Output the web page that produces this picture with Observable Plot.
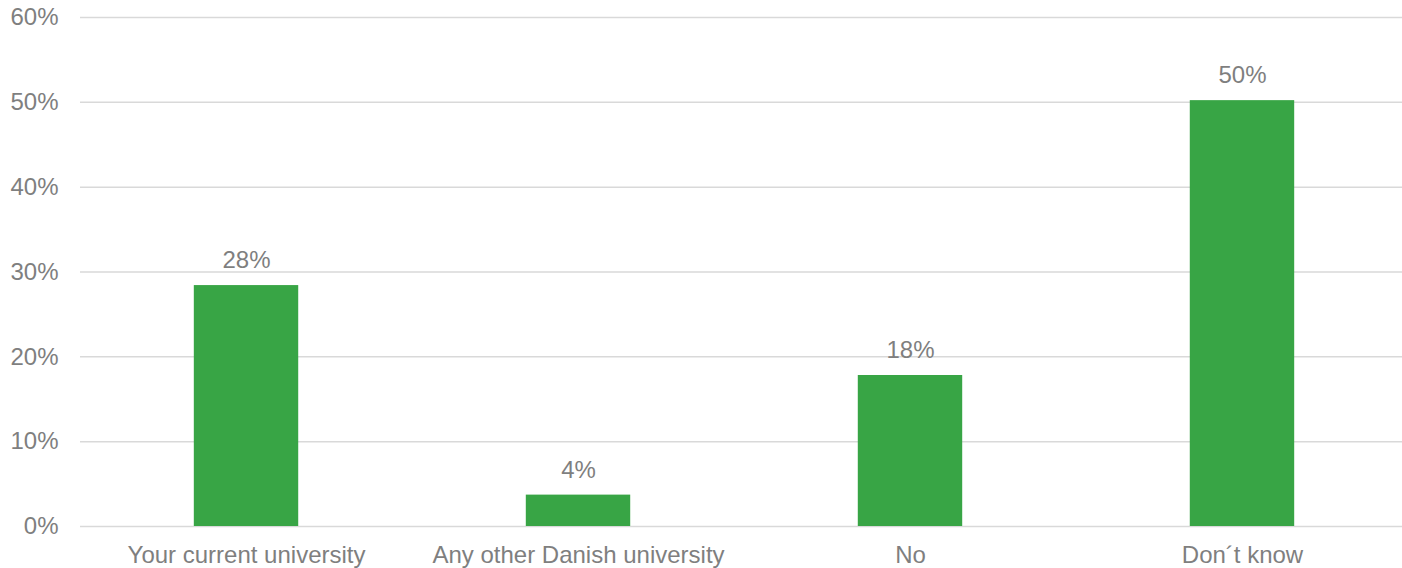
<!DOCTYPE html>
<html>
<head>
<meta charset="utf-8">
<script src="https://cdn.jsdelivr.net/npm/d3@7"></script>
<script src="https://cdn.jsdelivr.net/npm/@observablehq/plot@0.6"></script>
<style>
  html, body { margin: 0; padding: 0; background: #fff; }
</style>
</head>
<body>
<div id="chart"></div>
<script>
const categories = ["Your current university", "Any other Danish university", "No", "Don´t know"];
const values = [28.4, 3.7, 17.8, 50.2];
const yTicks = [0, 10, 20, 30, 40, 50, 60];

const data = categories.map((c, i) => ({category: c, value: values[i]}));

const textColor = "#7f7f7f";
const barColor = "#38a545";
const gridColor = "#d9d9d9";

const chart = Plot.plot({
  width: 1402,
  height: 568,
  marginTop: 17,
  marginBottom: 42,
  marginLeft: 80,
  marginRight: 0,
  style: {fontFamily: "'Liberation Sans', Arial, sans-serif", fontSize: "24px", color: textColor, background: "#fff"},
  x: {domain: categories, range: [80, 1408], paddingInner: 0.6855, paddingOuter: 0.3428, round: false, label: null},
  y: {domain: [0, 60], label: null},
  marks: [
    Plot.gridY(yTicks, {stroke: gridColor, strokeOpacity: 1, strokeWidth: 1.5}),
    Plot.barY(data, {x: "category", y: "value", fill: barColor}),
    Plot.text(data, {x: "category", y: "value", text: d => Math.round(d.value) + "%", dy: -25, fill: textColor, fontSize: 24}),
    Plot.axisY(yTicks, {tickSize: 0, tickPadding: 22, tickFormat: d => d + "%", label: null, fill: textColor}),
    Plot.axisX({tickSize: 0, tickPadding: 19, label: null, fill: textColor})
  ]
});

document.getElementById("chart").appendChild(chart);
</script>
</body>
</html>
